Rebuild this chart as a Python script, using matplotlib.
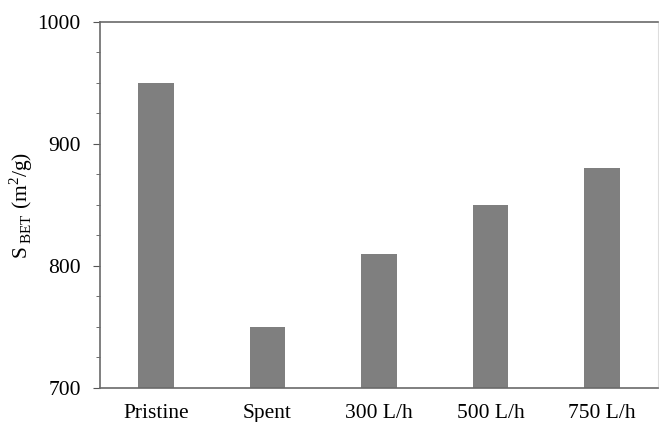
import matplotlib
matplotlib.use('Agg')
import matplotlib.pyplot as plt
import numpy as np
from matplotlib.ticker import MultipleLocator

plt.rcParams['font.family'] = ['Liberation Serif', 'DejaVu Serif']
plt.rcParams['mathtext.fontset'] = 'custom'
plt.rcParams['mathtext.rm'] = 'Liberation Serif'

categories = ['Pristine', 'Spent', '300 L/h', '500 L/h', '750 L/h']
s_bet = [950, 750, 810, 850, 880]

fig = plt.figure(figsize=(6.59, 4.22), dpi=100)
ax = fig.add_axes([0.152, 0.081, 0.846, 0.867])

x = np.arange(len(categories))
ax.bar(x, s_bet, width=0.32, color='#7f7f7f')

ax.set_xlim(-0.5, 4.5)
ax.set_ylim(700, 1000)
ax.set_xticks(x)
ax.set_xticklabels(categories, fontsize=15.5)
ax.tick_params(axis='x', length=0, pad=12)
ax.yaxis.set_major_locator(MultipleLocator(100))
ax.yaxis.set_minor_locator(MultipleLocator(25))
ax.tick_params(axis='y', which='major', direction='out', length=5, labelsize=15.5,
               color='#555555', pad=9)
ax.tick_params(axis='y', which='minor', direction='out', length=3, color='#555555')
ax.set_ylabel(r'S$\,_{\rm BET}$ (m$^2$/g)', fontsize=15.5)
ax.yaxis.set_label_coords(-0.116, 0.5)

for side in ['left', 'bottom', 'top']:
    ax.spines[side].set_color('#6a6a6a')
    ax.spines[side].set_linewidth(1.2)
ax.spines['right'].set_color('#dddddd')

fig.savefig('out.png', dpi=100)
